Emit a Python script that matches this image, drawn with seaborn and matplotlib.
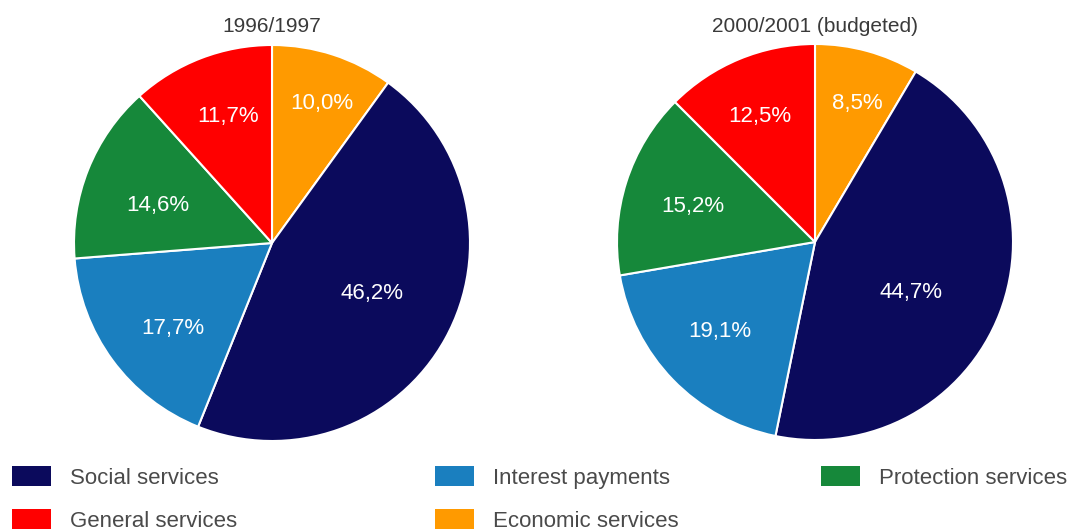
import matplotlib
matplotlib.use("Agg")
import matplotlib.pyplot as plt
import seaborn as sns
from matplotlib.patches import Patch
import numpy as np

sns.set_theme(style="white")
plt.rcParams["font.family"] = ["Liberation Sans", "DejaVu Sans"]

# Budget composition, clockwise from 12 o'clock
categories = ["Economic services", "Social services", "Interest payments",
              "Protection services", "General services"]
shares_1997 = [10.0, 46.2, 17.7, 14.6, 11.7]
shares_2001 = [8.5, 44.7, 19.1, 15.2, 12.5]
titles = ["1996/1997", "2000/2001 (budgeted)"]
label_1997 = ["10,0%", "46,2%", "17,7%", "14,6%", "11,7%"]
label_2001 = ["8,5%", "44,7%", "19,1%", "15,2%", "12,5%"]

colors = {
    "Social services": "#0b0a5c",
    "Interest payments": "#1a7fbf",
    "Protection services": "#16883a",
    "General services": "#ff0000",
    "Economic services": "#ff9a00",
}
# percentage label placement: fraction of the radius, and a small
# rotation (degrees) away from the wedge's mid-angle
label_r_1997 = [0.746, 0.565, 0.66, 0.605, 0.674]
label_rot_1997 = [-1.8, 2.3, 4.4, 3.7, -1.8]
label_r_2001 = [0.73, 0.55, 0.66, 0.64, 0.69]
label_rot_2001 = [-1.6, -6.6, -1.0, 1.6, 1.2]

fig = plt.figure(figsize=(10.8, 5.31), dpi=100)
W, H = 1080, 531
R = 198

def draw(center, values, labels, radii, rots, title):
    cx, cy = center
    ax = fig.add_axes([(cx - R) / W, (H - cy - R) / H, 2 * R / W, 2 * R / H])
    ax.pie(values, colors=[colors[c] for c in categories],
           startangle=90, counterclock=False, radius=1,
           wedgeprops=dict(edgecolor="white", linewidth=1.5))
    total = sum(values)
    start = 90.0
    for v, lab, r, rot in zip(values, labels, radii, rots):
        span = 360.0 * v / total
        mid = np.deg2rad(start - span / 2 + rot)
        ax.text(r * np.cos(mid), r * np.sin(mid), lab, ha="center", va="center",
                color="white", fontsize=16)
        start -= span
    ax.set_xlim(-1, 1)
    ax.set_ylim(-1, 1)
    ax.set_aspect("equal")
    ax.axis("off")
    fig.text(cx / W, 1 - 27 / H, title, ha="center", va="center",
             fontsize=15, color="#3a3a3a")

draw((272, 243), shares_1997, label_1997, label_r_1997, label_rot_1997, titles[0])
draw((815, 242), shares_2001, label_2001, label_r_2001, label_rot_2001, titles[1])

legend_cols = [
    (12, ["Social services", "General services"]),
    (435, ["Interest payments", "Economic services"]),
    (821, ["Protection services"]),
]
for x, names in legend_cols:
    handles = [Patch(facecolor=colors[n], edgecolor="none") for n in names]
    fig.legend(handles, names, loc="upper left",
               bbox_to_anchor=(x / W, 1 - 466 / H), frameon=False,
               fontsize=16, labelcolor="#4a4a4a", borderpad=0,
               borderaxespad=0, handlelength=1.75, handleheight=1.0,
               handletextpad=0.85, labelspacing=0.93)

fig.savefig("out.png", dpi=100)
